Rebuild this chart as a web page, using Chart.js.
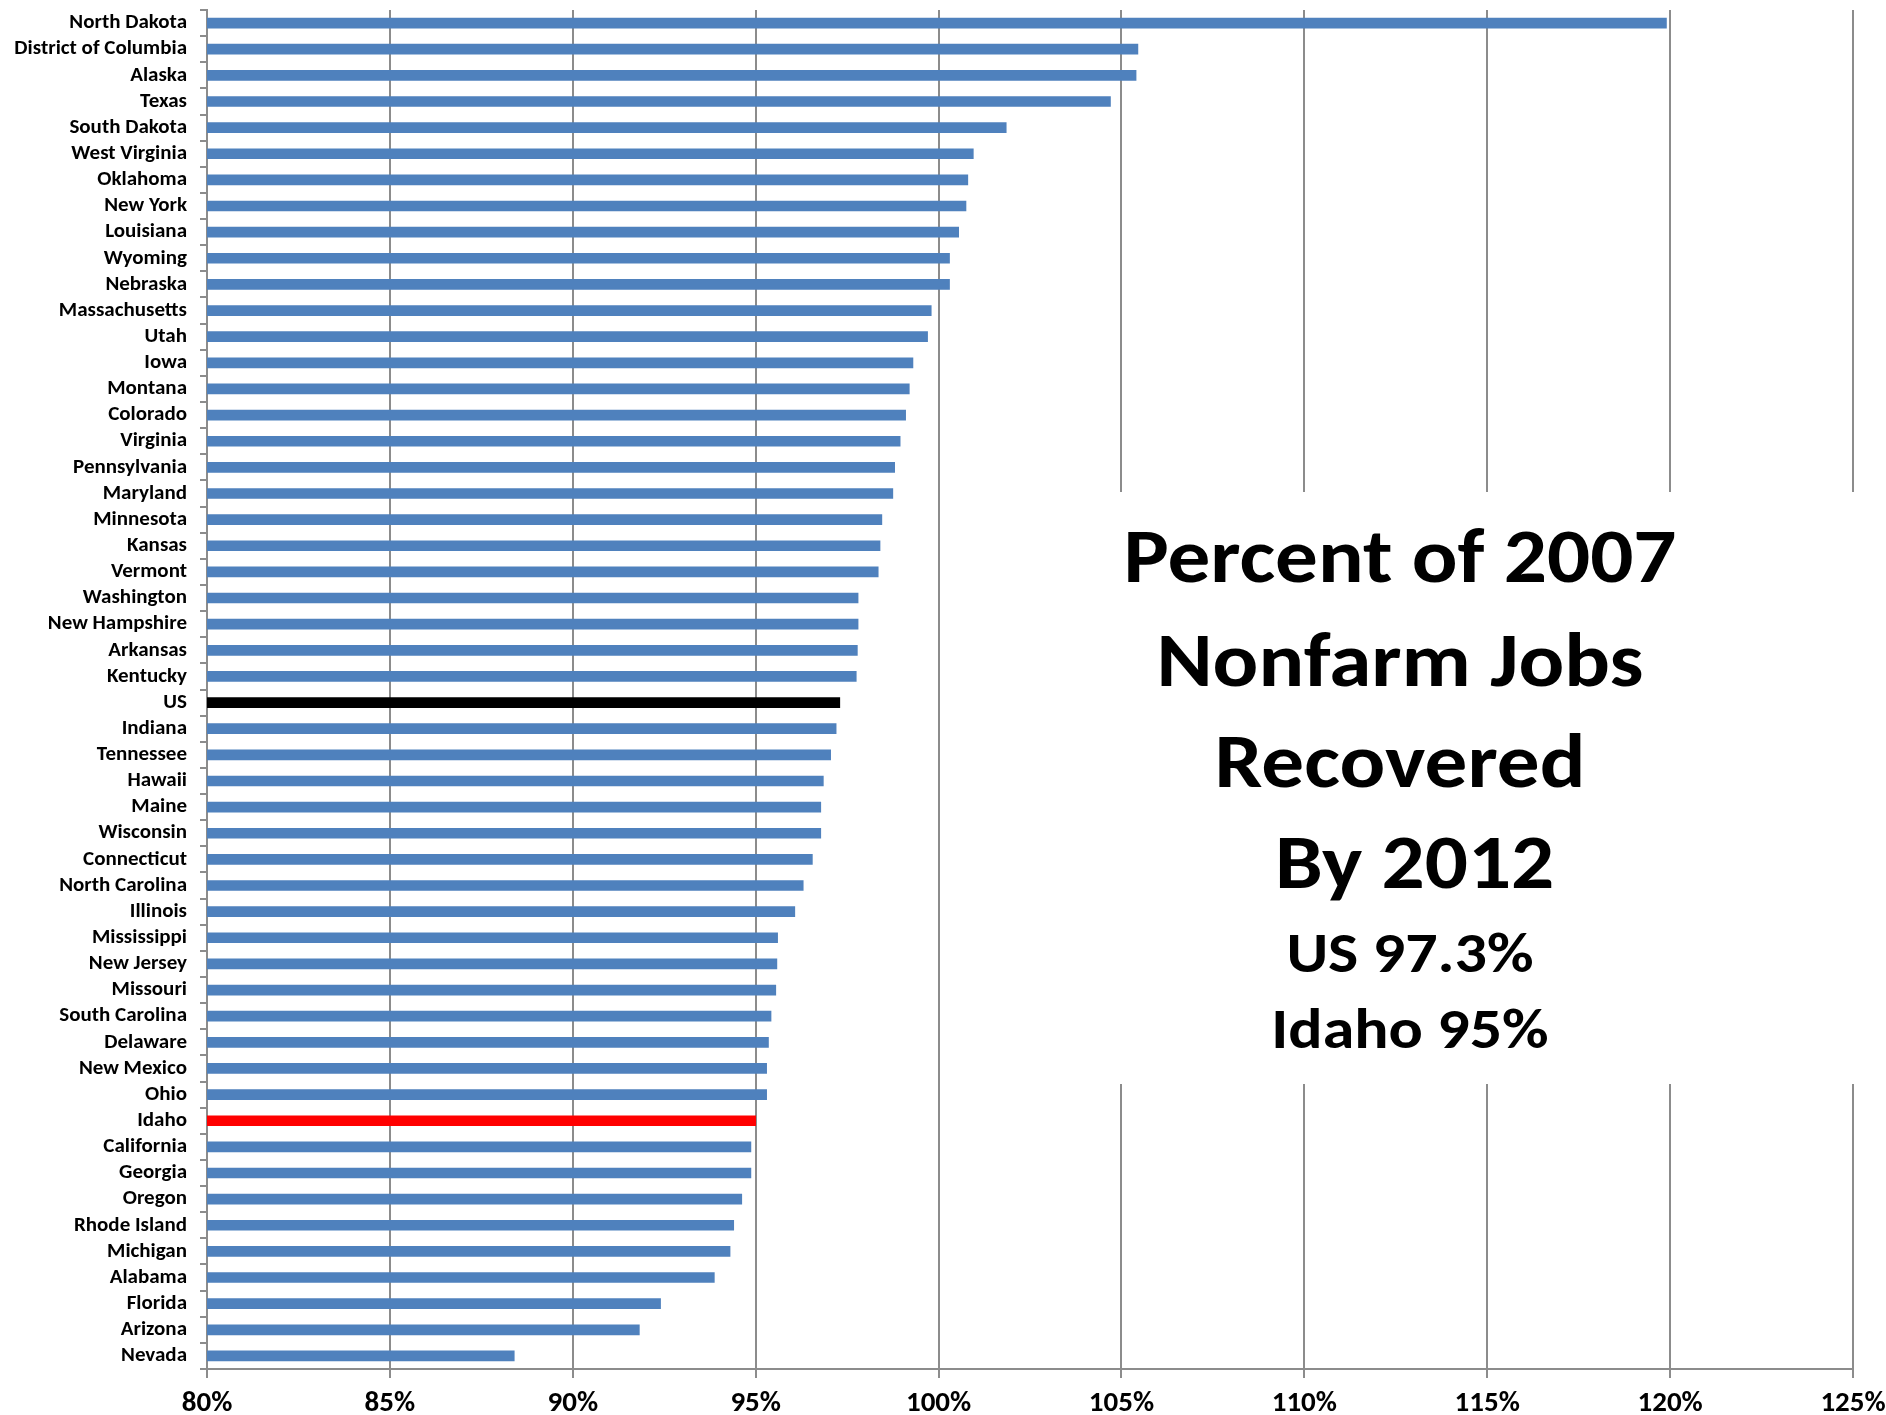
<!DOCTYPE html>
<html>
<head>
<meta charset="utf-8">
<script src="https://cdn.jsdelivr.net/npm/chart.js@4.4.1/dist/chart.umd.min.js"></script>
<style>
  body { margin: 0; background: #fff; }
  #wrap { width: 1886px; height: 1415px; position: relative; }
</style>
</head>
<body>
<div id="wrap"><canvas id="jobsChart"></canvas></div>
<script>
const states = ['North Dakota', 'District of Columbia', 'Alaska', 'Texas', 'South Dakota', 'West Virginia',
    'Oklahoma', 'New York', 'Louisiana', 'Wyoming', 'Nebraska', 'Massachusetts', 'Utah', 'Iowa', 'Montana',
    'Colorado', 'Virginia', 'Pennsylvania', 'Maryland', 'Minnesota', 'Kansas', 'Vermont', 'Washington',
    'New Hampshire', 'Arkansas', 'Kentucky', 'US', 'Indiana', 'Tennessee', 'Hawaii', 'Maine', 'Wisconsin',
    'Connecticut', 'North Carolina', 'Illinois', 'Mississippi', 'New Jersey', 'Missouri', 'South Carolina',
    'Delaware', 'New Mexico', 'Ohio', 'Idaho', 'California', 'Georgia', 'Oregon', 'Rhode Island', 'Michigan',
    'Alabama', 'Florida', 'Arizona', 'Nevada'];

// percent of 2007 nonfarm jobs in 2012
const pctRecovered = [119.9, 105.45, 105.4, 104.7, 101.85, 100.95,
    100.8, 100.75, 100.55, 100.3, 100.3, 99.8, 99.7, 99.3, 99.2,
    99.1, 98.95, 98.8, 98.75, 98.45, 98.4, 98.35, 97.8,
    97.8, 97.78, 97.75, 97.3, 97.2, 97.05, 96.85, 96.78, 96.78,
    96.55, 96.3, 96.07, 95.6, 95.58, 95.55, 95.42,
    95.35, 95.3, 95.3, 95.0, 94.87, 94.87, 94.62, 94.4, 94.3,
    93.87, 92.4, 91.82, 88.4];

const xTicks = [80, 85, 90, 95, 100, 105, 110, 115, 120, 125];
const titleLines = ['Percent of 2007', 'Nonfarm Jobs', 'Recovered', ' By 2012'];
const noteLines = ['US 97.3%', 'Idaho 95%'];

const barColors = states.map(s => s === 'US' ? '#000000' : (s === 'Idaho' ? '#ff0000' : '#4f81bd'));
const FONT = 'Carlito, Lato, "Open Sans", sans-serif';
const GRID = '#8c8c8c';

// white box behind the title text, hides the grid lines there
const textBox = {
    id: 'textBox',
    beforeDatasetsDraw(chart) {
        const ctx = chart.ctx;
        ctx.save();
        ctx.fillStyle = '#fff';
        ctx.fillRect(1000, 492, 886, 592);
        ctx.restore();
    },
    afterDraw(chart) {
        const ctx = chart.ctx;
        ctx.save();
        ctx.fillStyle = '#000';
        ctx.textAlign = 'center';
        ctx.textBaseline = 'alphabetic';
        ctx.font = 'bold 76px ' + FONT;
        const k = 553 / ctx.measureText('Percent of 2007').width;
        const bigY = [582, 686, 787, 888];
        titleLines.forEach((t, i) => {
            ctx.save();
            ctx.translate(i < 3 ? 1400 : 1405, bigY[i]);
            ctx.scale(k, 1);
            ctx.fillText(t, 0, 0);
            ctx.restore();
        });
        ctx.font = 'bold 57px ' + FONT;
        const smallY = [972, 1048];
        noteLines.forEach((t, i) => {
            ctx.save();
            ctx.translate(1410, smallY[i]);
            ctx.scale(k, 1);
            ctx.fillText(t, 0, 0);
            ctx.restore();
        });
        ctx.restore();
    }
};

const ctx = document.getElementById('jobsChart').getContext('2d');
const myChart = new Chart(ctx, {
    type: 'bar',
    data: {
        labels: states,
        datasets: [{
            data: pctRecovered,
            backgroundColor: barColors,
            barThickness: 10,
            borderWidth: 0
        }]
    },
    options: {
        indexAxis: 'y',
        responsive: true,
        maintainAspectRatio: false,
        animation: false,
        layout: {
            padding: { top: 10, right: 33, left: 0, bottom: 0 }
        },
        plugins: {
            legend: { display: false },
            tooltip: { enabled: false }
        },
        scales: {
            x: {
                min: 80,
                max: 125,
                afterBuildTicks: (scale) => { scale.ticks = xTicks.map(v => ({ value: v })); },
                afterFit: (scale) => {
                    scale.height = 46;
                    scale.paddingLeft = 0;
                    scale.paddingRight = 0;
                },
                ticks: {
                    callback: (v) => v + '%',
                    color: '#000',
                    font: { family: FONT, size: 29, weight: 'bold' },
                    padding: 8,
                    maxRotation: 0
                },
                grid: { color: GRID, lineWidth: 2, tickLength: 9 },
                border: { color: GRID, width: 2 }
            },
            y: {
                offset: true,
                afterFit: (scale) => {
                    scale.width = 207;
                    scale.paddingTop = 0;
                    scale.paddingBottom = 0;
                },
                ticks: {
                    autoSkip: false,
                    color: '#000',
                    font: { family: FONT, size: 21, weight: 'bold' },
                    padding: 13
                },
                grid: { drawOnChartArea: false, offset: true, color: GRID, lineWidth: 2, tickLength: 7 },
                border: { color: GRID, width: 2 }
            }
        }
    },
    plugins: [textBox]
});
</script>
</body>
</html>
